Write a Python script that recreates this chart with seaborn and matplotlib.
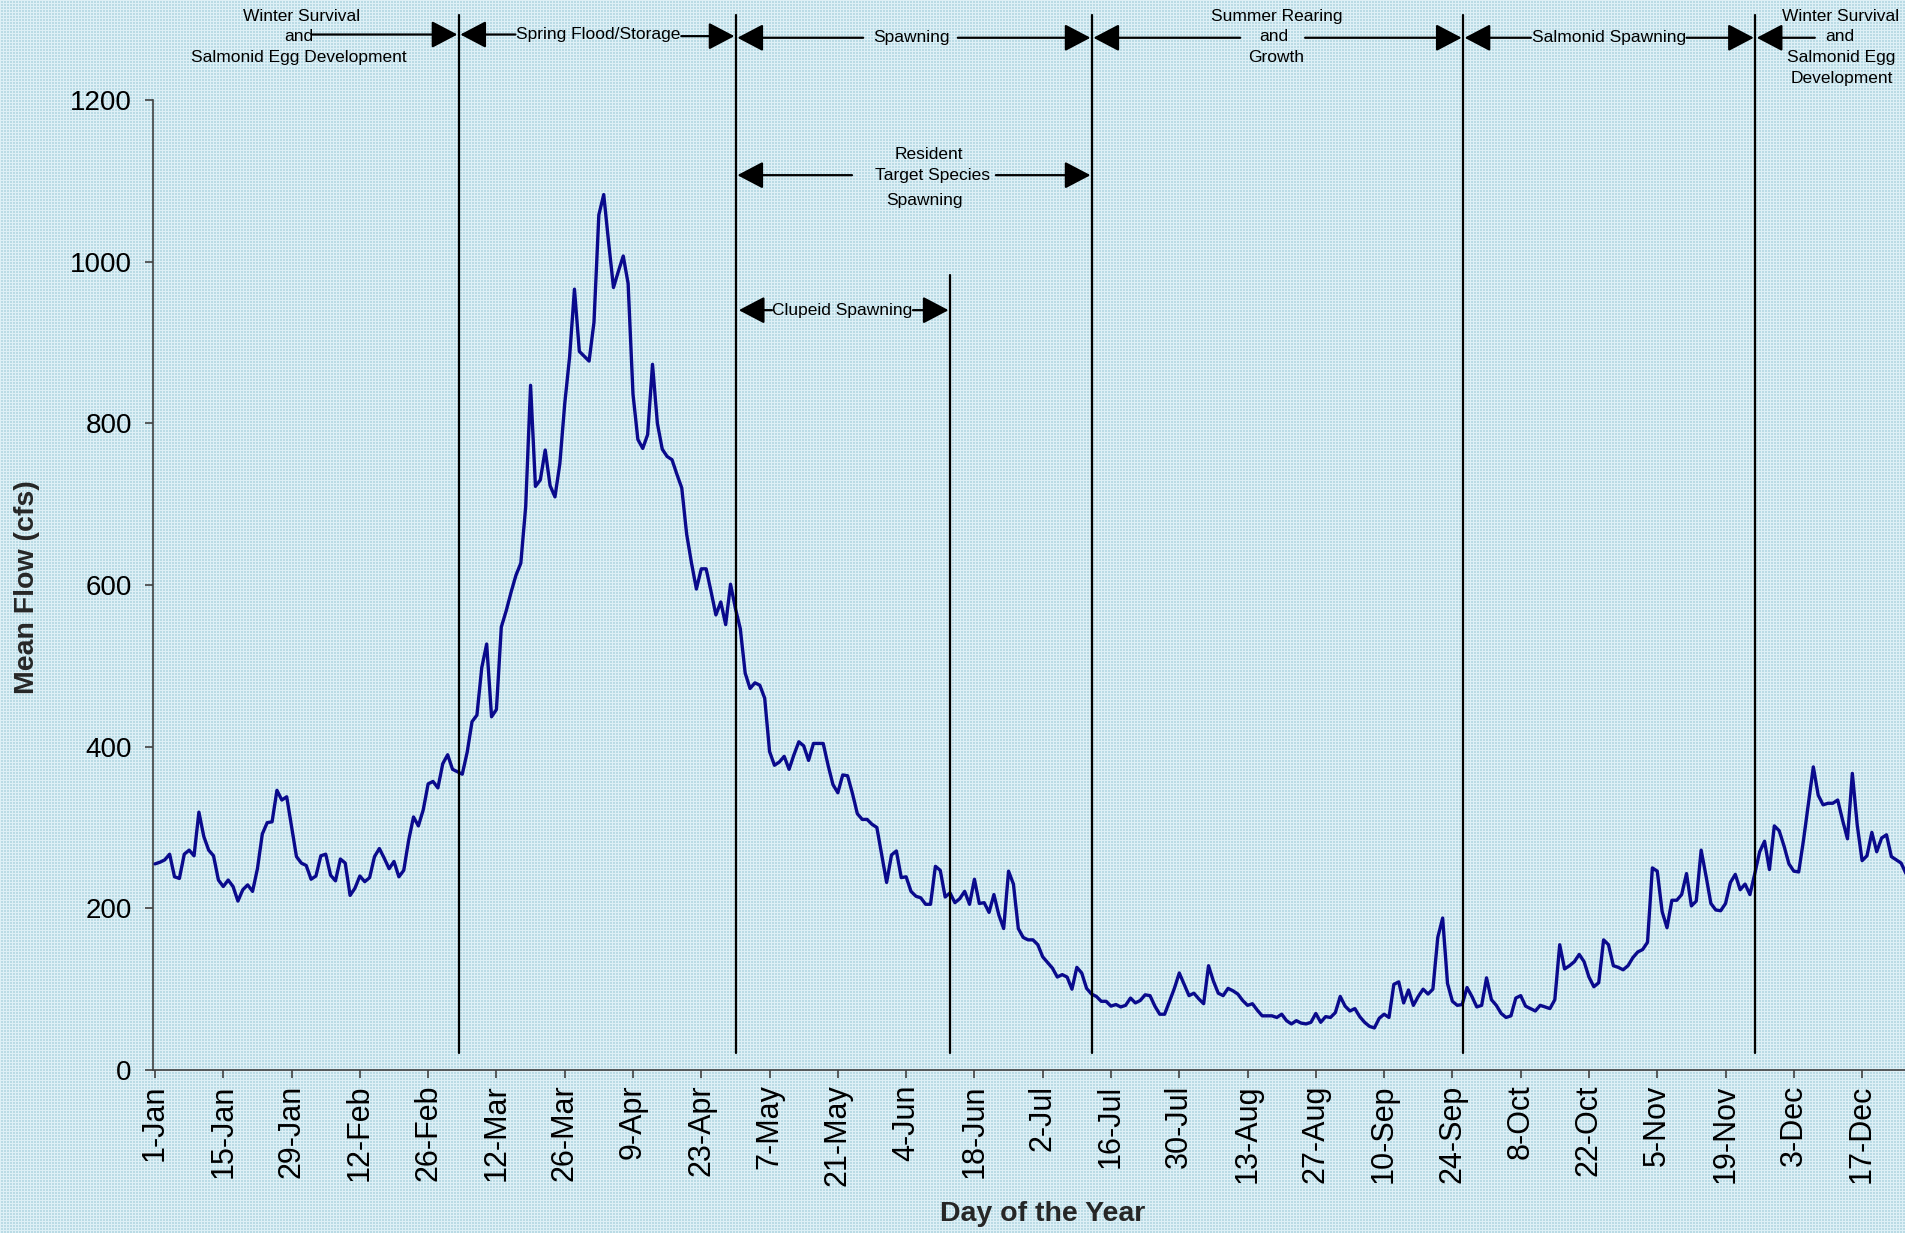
import numpy as np
import pandas as pd
import matplotlib
matplotlib.use("Agg")
import matplotlib.pyplot as plt
import seaborn as sns

# ---------------- data ----------------
flow = [
    255, 257, 260, 267, 239, 237, 267, 272, 265, 319,
    289, 272, 265, 235, 227, 235, 227, 209, 223, 229,
    221, 249, 292, 306, 307, 346, 334, 338, 301, 264,
    256, 253, 236, 240, 265, 267, 241, 234, 261, 256,
    216, 225, 240, 233, 238, 264, 274, 262, 249, 258,
    239, 247, 284, 313, 302, 322, 354, 357, 349, 379,
    390, 372, 369, 366, 393, 431, 439, 498, 527, 437,
    446, 548, 568, 591, 612, 627, 697, 847, 722, 730,
    767, 723, 709, 750, 824, 882, 966, 889, 883, 877,
    925, 1058, 1083, 1024, 968, 988, 1007, 973, 836, 780,
    769, 786, 873, 800, 768, 759, 755, 737, 720, 663,
    627, 595, 620, 620, 592, 563, 579, 551, 601, 571,
    546, 491, 472, 479, 476, 460, 394, 377, 381, 388,
    372, 390, 406, 401, 383, 404, 404, 404, 377, 353,
    343, 365, 364, 342, 317, 310, 310, 304, 300, 266,
    232, 266, 271, 238, 239, 221, 215, 213, 205, 205,
    252, 247, 214, 219, 207, 212, 221, 205, 236, 206,
    207, 195, 217, 192, 175, 246, 230, 175, 164, 161,
    161, 155, 140, 133, 126, 115, 118, 115, 100, 127,
    120, 101, 94, 91, 85, 85, 79, 81, 78, 80,
    89, 83, 86, 93, 92, 79, 69, 69, 85, 101,
    120, 106, 92, 95, 88, 82, 129, 110, 95, 92,
    101, 98, 94, 86, 80, 82, 74, 67, 67, 67,
    65, 69, 61, 57, 61, 58, 57, 59, 70, 59,
    66, 65, 71, 91, 79, 73, 76, 66, 59, 54,
    52, 64, 69, 65, 106, 109, 83, 99, 80, 91,
    100, 94, 100, 164, 188, 107, 85, 80, 81, 102,
    91, 78, 80, 114, 87, 80, 70, 65, 67, 89,
    92, 79, 76, 73, 80, 78, 76, 87, 155, 125,
    129, 134, 143, 134, 115, 103, 108, 161, 155, 129,
    127, 124, 129, 139, 146, 149, 158, 250, 246, 196,
    176, 210, 210, 217, 243, 203, 209, 272, 240, 206,
    198, 197, 206, 232, 242, 223, 230, 217, 243, 270,
    283, 248, 302, 296, 277, 255, 246, 245, 285, 330,
    375, 340, 328, 330, 330, 334, 309, 286, 367, 303,
    259, 265, 294, 270, 287, 291, 264, 260, 256, 243,
]
day = list(range(len(flow)))

tick_days = list(range(0, 351, 14))
tick_labels = ["1-Jan", "15-Jan", "29-Jan", "12-Feb", "26-Feb", "12-Mar", "26-Mar",
               "9-Apr", "23-Apr", "7-May", "21-May", "4-Jun", "18-Jun", "2-Jul",
               "16-Jul", "30-Jul", "13-Aug", "27-Aug", "10-Sep", "24-Sep", "8-Oct",
               "22-Oct", "5-Nov", "19-Nov", "3-Dec", "17-Dec"]
y_ticks = [0, 200, 400, 600, 800, 1000, 1200]

# boundaries of the life-stage periods (day of year)
phase_bounds = [62.3, 119.1, 192.1, 268.2, 328.1]
clupeid_end = 163.0

# ---------------- style ----------------
sns.set_theme(style="ticks")
plt.rcParams["font.family"] = ["Liberation Sans", "DejaVu Sans"]

W, H = 1906, 1233
fig = plt.figure(figsize=(W / 100, H / 100), dpi=100)

# graph-paper texture background
base = np.array([186, 219, 229], dtype=np.uint8)
light = np.array([222, 240, 246], dtype=np.uint8)
tex = np.empty((H, W, 3), dtype=np.uint8)
tex[:] = base
tex[::3, :, :] = light
tex[:, ::3, :] = light
fig.figimage(tex, 0, 0, zorder=-10)

ax_left = 153.3
ax = fig.add_axes([ax_left / W, 1 - 1070 / H, (W - ax_left) / W, 970 / H])
ax.set_zorder(5)
ax.patch.set_alpha(0)

df = pd.DataFrame({"day": day, "flow": flow})
sns.lineplot(data=df, x="day", y="flow", ax=ax, color="#0a0a8c", linewidth=2.4,
             zorder=3)

ax.set_xlim(-0.35, 359.0)
ax.set_ylim(0, 1200)
ax.set_xticks(tick_days)
ax.set_xticklabels(tick_labels, rotation=90, fontsize=22)
ax.set_yticks(y_ticks)
ax.set_yticklabels([str(v) for v in y_ticks], fontsize=20)
ax.tick_params(axis="y", direction="out", length=5.5, width=1.2, color="#404040",
               pad=10, labelcolor="black")
ax.tick_params(axis="x", direction="out", length=5.5, width=1.2, color="#404040",
               pad=5, labelcolor="black")
for s in ["top", "right"]:
    ax.spines[s].set_visible(False)
for s in ["left", "bottom"]:
    ax.spines[s].set_color("#404040")
    ax.spines[s].set_linewidth(1.2)

ax.set_xlabel("Day of the Year", fontsize=20.5, fontweight="bold")
ax.set_ylabel("Mean Flow (cfs)", fontsize=20.5, fontweight="bold")
ax.xaxis.label.set_va("center")
ax.yaxis.label.set_va("center")
ax.xaxis.set_label_coords(0.5076, -0.1485)
ax.yaxis.set_label_coords(-0.0722, 0.498)

# ---------------- period markers ----------------
for xb in phase_bounds:
    ax.plot([xb, xb], [21, 1305], color="black", lw=1.6, clip_on=False, zorder=4)
ax.plot([clupeid_end, clupeid_end], [21, 983], color="black", lw=1.6,
        clip_on=False, zorder=4)

ARW = dict(arrowstyle="-|>,head_length=0.8,head_width=0.42", color="black",
           lw=1.6, shrinkA=0, shrinkB=0, mutation_scale=20)


def arrow(x0, x1, y):
    ax.annotate("", xy=(x1, y), xytext=(x0, y), arrowprops=ARW,
                annotation_clip=False, zorder=5)


def label(x, y, s):
    ax.text(x, y, s, ha="center", va="center", fontsize=12.5, color="black",
            clip_on=False, zorder=5)


# Winter survival (left)
label(30.0, 1303, "Winter Survival")
label(29.5, 1279, "and")
label(29.4, 1253, "Salmonid Egg Development")
arrow(32.3, phase_bounds[0] - 0.3, 1281)

# Spring flood
label(90.8, 1281, "Spring Flood/Storage")
arrow(73.9, phase_bounds[0] + 0.3, 1281)
arrow(107.9, phase_bounds[1] - 0.3, 1279)

# Spawning
label(155.0, 1277, "Spawning")
arrow(145.2, phase_bounds[1] + 0.3, 1277)
arrow(164.6, phase_bounds[2] - 0.3, 1277)

# Summer rearing
label(229.9, 1303, "Summer Rearing")
label(229.3, 1278.5, "and")
label(229.9, 1253, "Growth")
arrow(222.5, phase_bounds[2] + 0.3, 1277)
arrow(235.8, phase_bounds[3] - 0.3, 1277)

# Salmonid spawning
label(298.1, 1277, "Salmonid Spawning")
arrow(282.1, phase_bounds[3] + 0.3, 1277)
arrow(314.0, phase_bounds[4] - 0.3, 1277)

# Winter survival (right)
label(345.5, 1303, "Winter Survival")
label(345.5, 1278.5, "and")
label(345.8, 1253, "Salmonid Egg")
label(345.8, 1227, "Development")
arrow(340.3, phase_bounds[4] + 0.3, 1277)

# Resident target species spawning
label(158.7, 1133, "Resident")
label(159.5, 1107, "Target Species")
label(157.7, 1075.6, "Spawning")
arrow(142.9, phase_bounds[1] + 0.3, 1107)
arrow(172.4, phase_bounds[2] - 0.3, 1107)

# Clupeid spawning
label(140.8, 940, "Clupeid Spawning")
arrow(126.5, phase_bounds[1] + 0.6, 940)
arrow(155.4, clupeid_end - 0.3, 940)

fig.savefig("out.png", dpi=100)
